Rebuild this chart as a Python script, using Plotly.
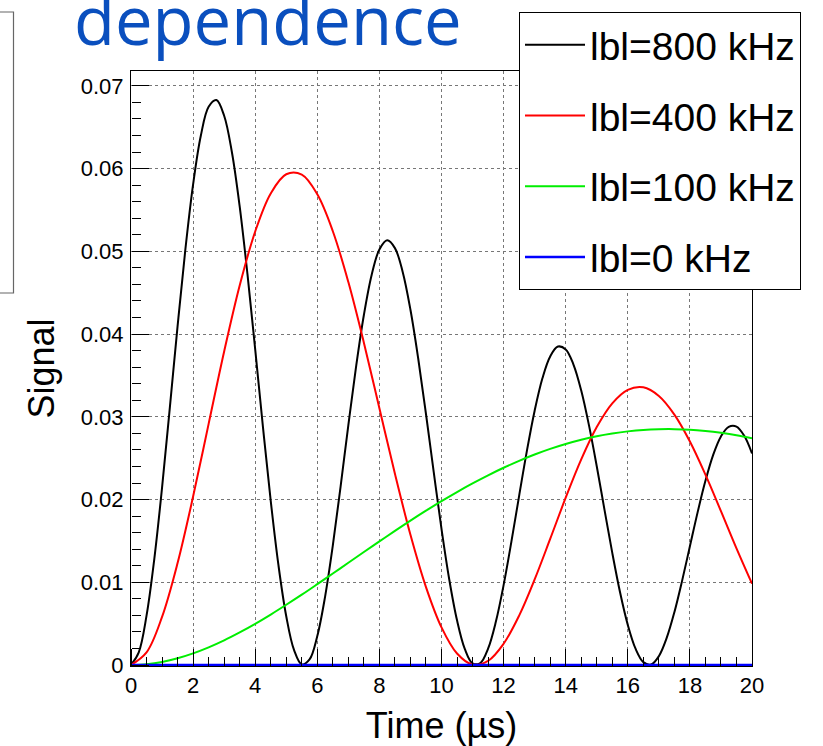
import plotly.graph_objects as go

# ---- data ----
t_fine = [i * 0.25 for i in range(81)]
t_coarse = [i * 0.5 for i in range(41)]

sig_800 = [0.0, 0.00154, 0.00596, 0.01281, 0.02143, 0.03109, 0.04095, 0.0502, 0.05809, 0.064,
           0.06747, 0.06829, 0.06639, 0.06198, 0.05543, 0.04727, 0.03814, 0.02876, 0.01984, 0.01203,
           0.00589, 0.00182, 0.00007, 0.00067, 0.0035, 0.00824, 0.01445, 0.02157, 0.029, 0.03609,
           0.04231, 0.04715, 0.05022, 0.05133, 0.05039, 0.04751, 0.04294, 0.03705, 0.03034, 0.0233,
           0.01645, 0.01034, 0.0054, 0.00195, 0.0002, 0.00024, 0.00198, 0.00522, 0.00965, 0.01488,
           0.02045, 0.02588, 0.03074, 0.03465, 0.0373, 0.03849, 0.03815, 0.03632, 0.03318, 0.02896,
           0.02403, 0.01876, 0.01355, 0.0088, 0.00485, 0.00197, 0.00035, 0.00005, 0.00106, 0.00324,
           0.00638, 0.0102, 0.01435, 0.01848, 0.02226, 0.0254, 0.02763, 0.02879, 0.02882, 0.0277,
           0.02557]

sig_400 = [0.0, 0.00152, 0.00581, 0.01232, 0.02036, 0.02915, 0.0379, 0.04587, 0.0524, 0.057,
           0.05932, 0.05927, 0.05689, 0.05243, 0.04629, 0.03896, 0.03104, 0.02311, 0.01574, 0.00942,
           0.00455, 0.00139, 0.00005, 0.0005, 0.00257, 0.00597, 0.01034, 0.01524, 0.02022, 0.02485,
           0.02876, 0.03163, 0.03326, 0.03356, 0.03252, 0.03027, 0.02702, 0.02301, 0.0186, 0.0141,
           0.00983]

sig_100 = [0.0, 0.0001, 0.00037, 0.00082, 0.00141, 0.00214, 0.00298, 0.00394, 0.00498, 0.0061,
           0.00728, 0.0085, 0.00977, 0.01106, 0.01236, 0.01366, 0.01494, 0.01621, 0.01745, 0.01865,
           0.01981, 0.02091, 0.02195, 0.02293, 0.02384, 0.02468, 0.02544, 0.02612, 0.02671, 0.02722,
           0.02765, 0.02798, 0.02824, 0.02842, 0.0285, 0.02851, 0.02845, 0.02829, 0.02806, 0.02777,
           0.0274]

sig_0 = [0.0] * 41

labels = ["lbl=800 kHz", "lbl=400 kHz", "lbl=100 kHz", "lbl=0 kHz"]
colors = ["#000000", "#ff0000", "#00ee00", "#0000ff"]
x_ticks = [0, 2, 4, 6, 8, 10, 12, 14, 16, 18, 20]
y_ticks = [0, 0.01, 0.02, 0.03, 0.04, 0.05, 0.06, 0.07]
y_tick_text = ["0", "0.01", "0.02", "0.03", "0.04", "0.05", "0.06", "0.07"]

FONT = "Liberation Sans, Arial, Helvetica, sans-serif"
X_RANGE = [0, 20]
Y_RANGE = [-0.00012, 0.0718]

fig = go.Figure()
series = [(t_fine, sig_800), (t_coarse, sig_400), (t_coarse, sig_100), (t_coarse, sig_0)]
widths = [2, 2, 2, 2.6]
for i, ((tx, ty), lab, col) in enumerate(zip(series, labels, colors)):
    fig.add_trace(go.Scatter(
        x=tx, y=ty, mode="lines", name=lab,
        line=dict(color=col, width=widths[i], shape="spline", smoothing=1.0),
        legendgroup=f"g{i}",
    ))

# empty trace so the overlay axes (which carry the inward-pointing ticks) are drawn
fig.add_trace(go.Scatter(x=[], y=[], xaxis="x2", yaxis="y2", showlegend=False, hoverinfo="skip"))

L, R, T, B = 131, 71, 71, 80
W, H = 823, 746
ph = H - T - B

def py(p):
    return (H - B - p) / ph

def px(p):
    return (p - L) / (W - L - R)

tick_style = dict(tickwidth=1, tickcolor="black")

fig.update_layout(
    width=W, height=H,
    margin=dict(l=L, r=R, t=T, b=B, pad=0),
    paper_bgcolor="white", plot_bgcolor="white",
    font=dict(family=FONT, color="black", size=22),
    showlegend=True,
    legend=dict(
        x=px(519), y=py(12), xanchor="left", yanchor="top",
        bgcolor="white", bordercolor="black", borderwidth=1,
        font=dict(family=FONT, size=39, color="black"),
        itemwidth=60, tracegroupgap=17, traceorder="grouped",
    ),
    xaxis=dict(
        range=X_RANGE, tickmode="array", tickvals=x_ticks, ticks="",
        showgrid=True, gridcolor="#777777", griddash="dot", gridwidth=1,
        showline=True, linecolor="black", linewidth=1, mirror=True,
        zeroline=False, tickfont=dict(size=22), automargin=False,
        title=dict(text="Time (µs)", font=dict(size=36), standoff=18),
    ),
    yaxis=dict(
        range=Y_RANGE, tickmode="array", tickvals=y_ticks, ticktext=y_tick_text, ticks="",
        showgrid=True, gridcolor="#777777", griddash="dot", gridwidth=1,
        showline=True, linecolor="black", linewidth=1, mirror=True,
        zeroline=False, tickfont=dict(size=22), automargin=False,
        ticklabelstandoff=2,
        title=dict(text="Signal", font=dict(size=36), standoff=15),
    ),
    xaxis2=dict(
        overlaying="x", anchor="free", position=0, side="top",
        range=X_RANGE, tickmode="array", tickvals=x_ticks,
        ticks="outside", ticklen=17, **tick_style,
        minor=dict(dtick=0.5, tick0=0, ticks="outside", ticklen=9, showgrid=False, **tick_style),
        showticklabels=False, showgrid=False, showline=False, zeroline=False, automargin=False,
    ),
    yaxis2=dict(
        overlaying="y", anchor="free", position=0, side="right",
        range=Y_RANGE, tickmode="array", tickvals=y_ticks,
        ticks="outside", ticklen=17, **tick_style,
        minor=dict(dtick=0.002, tick0=0, ticks="outside", ticklen=9, showgrid=False, **tick_style),
        showticklabels=False, showgrid=False, showline=False, zeroline=False, automargin=False,
    ),
)

# partially visible title of the slide
fig.add_annotation(
    text="dependence", xref="paper", yref="paper",
    x=px(72), y=py(67), xanchor="left", yanchor="bottom",
    showarrow=False,
    font=dict(family="Open Sans, sans-serif", size=67, color="#0a4fbe"),
)

# partially visible box at the left edge of the slide
fig.add_shape(type="rect", xref="paper", yref="paper",
              x0=px(-10), x1=px(13.5), y0=py(293), y1=py(12),
              line=dict(color="#666666", width=1.2), fillcolor="rgba(0,0,0,0)", layer="above")

fig.write_html("out.html")
